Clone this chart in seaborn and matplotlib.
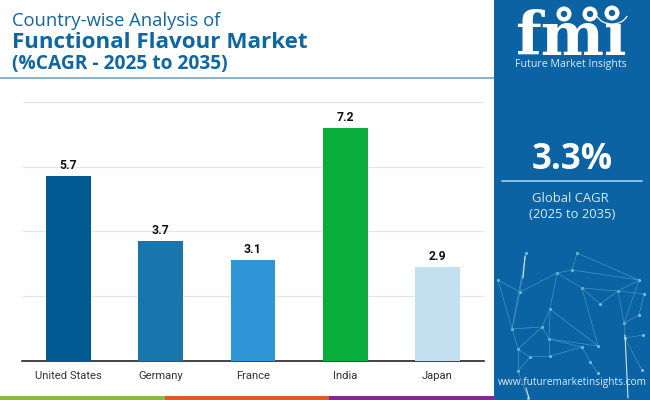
import matplotlib
matplotlib.use("Agg")
import matplotlib.pyplot as plt
import seaborn as sns
import pandas as pd
from matplotlib.patches import Rectangle, Circle, Arc

countries = ["United States", "Germany", "France", "India", "Japan"]
cagr = [5.7, 3.7, 3.1, 7.2, 2.9]
bar_colors = ["#025a92", "#1b75ad", "#3095d6", "#08ad3c", "#c3e0f1"]
y_ticks = [0, 2, 4, 6, 8]
title_lines = ["Country-wise Analysis of", "Functional Flavour Market", "(%CAGR - 2025 to 2035)"]
global_value = "3.3%"
global_label = ["Global CAGR", "(2025 to 2035)"]
brand = "Future Market Insights"
website = "www.futuremarketinsights.com"
strip_colors = ["#8bbb3f", "#e2582a", "#7f2c8c"]

W, H = 650, 400
sns.set_theme(style="white")
plt.rcParams["font.family"] = ["Roboto", "DejaVu Sans"]
fig = plt.figure(figsize=(W / 100, H / 100), dpi=100, facecolor="white")

# Full-figure layer in pixel coordinates for the page furniture
bg = fig.add_axes([0, 0, 1, 1], zorder=0)
bg.axis("off")
PANEL = "#0b63a3"
bg.add_patch(Rectangle((494, 0), 156, 400, color=PANEL, lw=0))
bg.plot([0, 494], [77.5, 77.5], color="#8cafc7", lw=1.4, solid_capstyle="butt")
for i, c in enumerate(strip_colors):
    bg.add_patch(Rectangle((i * 164.7, 396), 164.7, 4, color=c, lw=0))

# Titles
TC = "#0d67a3"
bg.text(12, 21.5, title_lines[0], fontsize=13.2, family="Open Sans", color=TC, va="center", ha="left")
bg.text(12, 42.5, title_lines[1], fontsize=16.1, family="Open Sans", weight="bold", color=TC, va="center", ha="left")
bg.text(12, 64.5, title_lines[2], fontsize=13.8, family="Open Sans", weight="bold", color=TC, va="center", ha="left")

# Right panel: logo
bg.text(571, 55, "fm\u0131", fontsize=43, family="DejaVu Serif", weight="bold", color="white", ha="center", va="baseline")
for yy in range(14, 56, 4):
    bg.plot([512, 632], [yy, yy], color=PANEL, lw=0.8)
bg.add_patch(Arc((612, 12), 32, 24, theta1=15, theta2=165, color="white", lw=0.9, zorder=4))
for cx, cy in [(564, 14), (590, 14), (612, 13)]:
    bg.add_patch(Circle((cx, cy), 7.5, color="white", lw=0, zorder=4))
    bg.add_patch(Circle((cx, cy), 3.2, color=PANEL, lw=0, zorder=5))
bg.text(571, 65, brand, fontsize=7.7, color="#dcebf6", ha="center", va="center", family="Open Sans")

# Right panel: KPI
bg.text(572, 160, global_value, fontsize=25, weight="bold", family="Open Sans", color="white", ha="center", va="center")
bg.plot([502, 642], [181, 181], color="#8dbcdf", lw=1.4)
bg.text(570, 198.5, global_label[0], fontsize=9.4, family="Open Sans", color="#dcebf6", ha="center", va="center")
bg.text(572, 215, global_label[1], fontsize=9.4, family="Open Sans", color="#dcebf6", ha="center", va="center")

# Right panel: decorative network
nodes = [(526,253),(577,253),(557,273),(572,270),(639,280),(520,292),(498,280),(582,288),(618,291),(644,294),
         (600,304),(550,309),(639,315),(512,329),(542,327),(624,323),(549,339),(643,335),(625,338),(598,346),
         (582,347),(518,349),(530,357),(550,356),(590,362),(518,371),(642,370),(598,373),(528,398)]
edges = [(0,5),(0,13),(5,6),(5,2),(5,13),(2,3),(3,4),(1,3),(1,4),(2,11),(2,7),(7,10),(7,8),(8,4),(8,9),(8,15),
         (4,15),(11,14),(11,19),(14,16),(14,21),(13,14),(13,21),(16,19),(16,20),(21,22),(22,23),(23,20),(16,23),
         (20,24),(24,27),(15,18),(15,12),(12,9),(18,17),(18,26),(21,25),(25,22),(25,28),(10,8),(7,19),(6,13),(11,16)]
for a, b in edges:
    bg.plot([nodes[a][0], nodes[b][0]], [nodes[a][1], nodes[b][1]], color="#4f9cc6", lw=0.5, alpha=0.85)
bg.scatter([n[0] for n in nodes], [n[1] for n in nodes], s=5, color="#86bfd6", lw=0)
for seg in [((525, 256), (523, 278)), ((625, 335), (628, 398)), ((526, 388), (529, 398))]:
    bg.plot(*zip(*seg), color="#cfe6f2", lw=0.8)
bg.text(572, 383, website, fontsize=7.3, family="Open Sans", color="#dcebf6", ha="center", va="center")
bg.set_xlim(0, W); bg.set_ylim(H, 0)

# Chart
ax = fig.add_axes([22.5 / W, 1 - 360.5 / H, 461 / W, 258.5 / H], zorder=2)
ax.patch.set_alpha(0)
df = pd.DataFrame({"Country": countries, "CAGR": cagr})
sns.barplot(data=df, x="Country", y="CAGR", hue="Country", palette=bar_colors, dodge=False,
            legend=False, width=0.488, saturation=1, linewidth=0, ax=ax, zorder=3)
ax.set_xlim(-0.5, 4.5); ax.set_ylim(0, 8)
ax.set_yticks(y_ticks); ax.set_yticklabels([])
ax.set_xlabel(""); ax.set_ylabel("")
ax.grid(axis="y", color="#e6e6e6", lw=0.9); ax.grid(axis="x", visible=False)
ax.set_axisbelow(True)
for s in ["top", "left", "right"]:
    ax.spines[s].set_visible(False)
ax.spines["bottom"].set_color("#111111"); ax.spines["bottom"].set_linewidth(1.1)
ax.tick_params(axis="x", length=0, pad=7.5, labelsize=8.1, labelcolor="#333333")
ax.tick_params(axis="y", length=0)
for cont in ax.containers:
    ax.bar_label(cont, fmt="%.1f", padding=3, fontsize=8.8, fontweight="bold", color="#111111")

fig.savefig("out.png", dpi=100, facecolor="white")
